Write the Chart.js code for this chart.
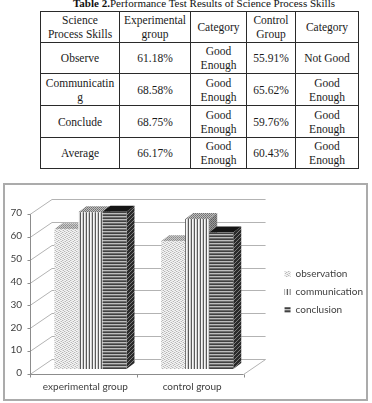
<!DOCTYPE html>
<html>
<head>
<meta charset="utf-8">
<script src="https://cdn.jsdelivr.net/npm/chart.js@4.4.1/dist/chart.umd.min.js"></script>
<style>
  html, body { margin:0; padding:0; background:#fff; }
  body { width:372px; height:403px; position:relative; overflow:hidden; }
  #title { position:absolute; left:0; top:-3px; width:408px; text-align:center;
           font:11px "Liberation Serif", "Times New Roman", serif; color:#111; white-space:nowrap; line-height:13px; }
  #title span { font-weight:normal; }
  #tbl { position:absolute; left:40px; top:11px; border-collapse:collapse; table-layout:fixed; width:318px;
         font:11.5px "Liberation Serif", "Times New Roman", serif; color:#1a1a1a; }
  #tbl td { border:1px solid #2a2a2a; padding:0; text-align:center; vertical-align:middle; line-height:14px; }
  #box { position:absolute; left:3px; top:183px; width:365px; height:218px; box-sizing:border-box;
         border:2px solid #ababab; background:#fff; }
  #c { position:absolute; left:0; top:0; }
</style>
</head>
<body>
<div id="title"><b>Table 2.</b><span>Performance Test Results of Science Process Skills</span></div>
<table id="tbl">
  <colgroup><col style="width:79px"><col style="width:71px"><col style="width:56px"><col style="width:49px"><col style="width:63px"></colgroup>
  <tbody id="tb"></tbody>
</table>
<div id="box"><canvas id="c" width="361" height="214"></canvas></div>
<script>
// ---------- Table data ----------
const tableHeader = ['Science\nProcess Skills', 'Experimental\ngroup', 'Category', 'Control\nGroup', 'Category'];
const skills = ['Observe', 'Communicatin\ng', 'Conclude', 'Average'];
const expPercent = ['61.18%', '68.58%', '68.75%', '66.17%'];
const expCategory = ['Good\nEnough', 'Good\nEnough', 'Good\nEnough', 'Good\nEnough'];
const ctrlPercent = ['55.91%', '65.62%', '59.76%', '60.43%'];
const ctrlCategory = ['Not Good', 'Good\nEnough', 'Good\nEnough', 'Good\nEnough'];

// ---------- Chart data ----------
const categories = ['experimental group', 'control group'];
const observation = [61.18, 55.91];
const communication = [68.58, 65.62];
const conclusion = [68.75, 59.76];
const seriesNames = ['observation', 'communication', 'conclusion'];
const yMin = 0, yMax = 70, yStep = 10;

// build table
const rowHeights = [31, 31, 32, 32, 31];
const tb = document.getElementById('tb');
function addRow(cells, h) {
  const tr = document.createElement('tr');
  tr.style.height = h + 'px';
  cells.forEach(t => {
    const td = document.createElement('td');
    t.split('\n').forEach((line, k) => {
      if (k) td.appendChild(document.createElement('br'));
      td.appendChild(document.createTextNode(line));
    });
    tr.appendChild(td);
  });
  tb.appendChild(tr);
}
addRow(tableHeader, rowHeights[0]);
skills.forEach((s, i) => addRow([s, expPercent[i], expCategory[i], ctrlPercent[i], ctrlCategory[i]], rowHeights[i + 1]));

// ---------- patterns ----------
const canvas = document.getElementById('c');
const mctx = canvas.getContext('2d');
function pattern(w, h, fn) {
  const c = document.createElement('canvas'); c.width = w; c.height = h;
  const g = c.getContext('2d'); fn(g); return mctx.createPattern(c, 'repeat');
}
function px(g, x, y, col) { g.fillStyle = col; g.fillRect(x, y, 1, 1); }
const patObs = pattern(4, 4, g => {
  g.fillStyle = '#f3f3f3'; g.fillRect(0, 0, 4, 4);
  [[0,0],[2,1],[1,3],[3,2]].forEach(p => px(g, p[0], p[1], '#b8b8b8'));
  [[1,1],[3,0],[0,2],[2,3]].forEach(p => px(g, p[0], p[1], '#dcdcdc'));
});
const patObsTop = pattern(2, 2, g => {
  g.fillStyle = '#c8c8c8'; g.fillRect(0, 0, 2, 2); px(g, 0, 0, '#8a8a8a'); px(g, 1, 1, '#9a9a9a');
});
const patComm = pattern(3, 1, g => {
  px(g, 0, 0, '#5a5a5a'); px(g, 1, 0, '#f7f7f7'); px(g, 2, 0, '#d0d0d0');
});
const patCommTop = pattern(2, 2, g => {
  g.fillStyle = '#bdbdbd'; g.fillRect(0, 0, 2, 2); px(g, 0, 0, '#707070'); px(g, 1, 1, '#808080');
});
const patCommSide = pattern(2, 2, g => {
  g.fillStyle = '#9a9a9a'; g.fillRect(0, 0, 2, 2); px(g, 0, 0, '#5c5c5c'); px(g, 1, 1, '#6c6c6c');
});
const patConc = pattern(1, 3, g => {
  px(g, 0, 0, '#414141'); px(g, 0, 1, '#bdbdbd'); px(g, 0, 2, '#6e6e6e');
});
const patConcSide = pattern(4, 4, g => {
  g.fillStyle = '#2a2a2a'; g.fillRect(0, 0, 4, 4);
  for (let i = 0; i < 4; i++) px(g, i, 3 - i, '#7a7a7a');
});
const fronts = [patObs, patComm, patConc];
const tops = [patObsTop, patCommTop, '#151515'];
const sides = [patObsTop, patCommSide, patConcSide];

// ---------- 3D look plugin (uses library scales / bar elements) ----------
const FX = -7, FY = 5;     // front plane offset from bar plane
const BX = 15, BY = -10;   // back wall offset from bar plane
const DX = 8, DY = -6;     // bar depth
const threeD = {
  id: 'threeD',
  beforeDatasetsDraw(chart) {
    const ctx = chart.ctx, ys = chart.scales.y, xs = chart.scales.x, ca = chart.chartArea;
    const seg = (x1, y1, x2, y2) => { ctx.beginPath(); ctx.moveTo(x1, y1); ctx.lineTo(x2, y2); ctx.stroke(); };
    ctx.save();
    ctx.lineWidth = 1;
    ctx.strokeStyle = '#b3b3b3';
    ys.ticks.forEach(t => {
      const py = Math.round(ys.getPixelForValue(t.value)) + 0.5;
      seg(ca.left + FX, py + FY, ca.left + BX, py + BY);
      seg(ca.left + BX, py + BY, ca.right + BX, py + BY);
    });
    const p0 = Math.round(ys.getPixelForValue(yMin)) + 0.5;
    const pTop = Math.round(ys.getPixelForValue(yMax)) + 0.5;
    seg(ca.right + FX, p0 + FY, ca.right + BX, p0 + BY);
    ctx.strokeStyle = '#8c8c8c';
    const ax = Math.round(ca.left + FX) + 0.5;
    seg(ax, pTop + FY, ax, p0 + FY);
    seg(ax, p0 + FY, ca.right + FX, p0 + FY);
    ys.ticks.forEach(t => {
      const py = Math.round(ys.getPixelForValue(t.value)) + 0.5;
      seg(ax - 3, py + FY, ax, py + FY);
    });
    const n = xs.ticks.length;
    const cw = (ca.right - ca.left) / n;
    for (let k = 0; k <= n; k++) {
      const bx = Math.round(ca.left + k * cw + FX) + 0.5;
      seg(bx, p0 + FY, bx, p0 + FY + 3);
    }
    // bar top and side faces
    const metas = chart.data.datasets.map((d, i) => chart.getDatasetMeta(i));
    for (let j = 0; j < n; j++) {
      metas.forEach((meta, i) => {
        const b = meta.data[j].getProps(['x', 'y', 'base', 'width'], true);
        const l = b.x - b.width / 2, r = b.x + b.width / 2, top = b.y, base = b.base;
        ctx.fillStyle = sides[i];
        ctx.beginPath();
        ctx.moveTo(r, top); ctx.lineTo(r + DX, top + DY); ctx.lineTo(r + DX, base + DY); ctx.lineTo(r, base);
        ctx.closePath(); ctx.fill();
        ctx.fillStyle = tops[i];
        ctx.beginPath();
        ctx.moveTo(l, top); ctx.lineTo(l + DX, top + DY); ctx.lineTo(r + DX, top + DY); ctx.lineTo(r, top);
        ctx.closePath(); ctx.fill();
      });
    }
    ctx.restore();
  }
};

const labelFont = { family: 'Lato, "Open Sans", sans-serif', size: 10 };
new Chart(canvas, {
  type: 'bar',
  data: {
    labels: categories,
    datasets: [
      { label: seriesNames[0], data: observation, backgroundColor: fronts[0], borderWidth: 0 },
      { label: seriesNames[1], data: communication, backgroundColor: fronts[1], borderWidth: 0 },
      { label: seriesNames[2], data: conclusion, backgroundColor: fronts[2], borderWidth: 0 }
    ]
  },
  options: {
    responsive: false,
    animation: false,
    devicePixelRatio: 1,
    layout: { padding: { top: 24, bottom: 6, left: 0, right: -7 } },
    datasets: { bar: { categoryPercentage: 0.676, barPercentage: 1 } },
    plugins: {
      legend: {
        position: 'right',
        align: 'center',
        fullSize: false,
        maxWidth: 140,
        title: { display: true, text: '', font: { size: 5 }, padding: 0 },
        labels: { boxWidth: 6, boxHeight: 6, padding: 8, font: labelFont, color: '#404040' }
      },
      tooltip: { enabled: false },
      title: { display: false }
    },
    scales: {
      x: {
        grid: { display: false, drawTicks: false },
        border: { display: false },
        ticks: { padding: 12, labelOffset: -5, font: labelFont, color: '#404040' },
        afterFit: s => { s.height = 24; }
      },
      y: {
        min: yMin, max: yMax,
        grid: { display: false, drawTicks: false },
        border: { display: false },
        ticks: { stepSize: yStep, padding: 15, labelOffset: 4, font: labelFont, color: '#404040' },
        afterFit: s => { s.width = 32; }
      },
      gap: {
        position: 'right',
        grid: { display: false, drawTicks: false },
        border: { display: false },
        ticks: { display: false },
        afterFit: s => { s.width = 26; }
      }
    }
  },
  plugins: [threeD]
});
</script>
</body>
</html>
